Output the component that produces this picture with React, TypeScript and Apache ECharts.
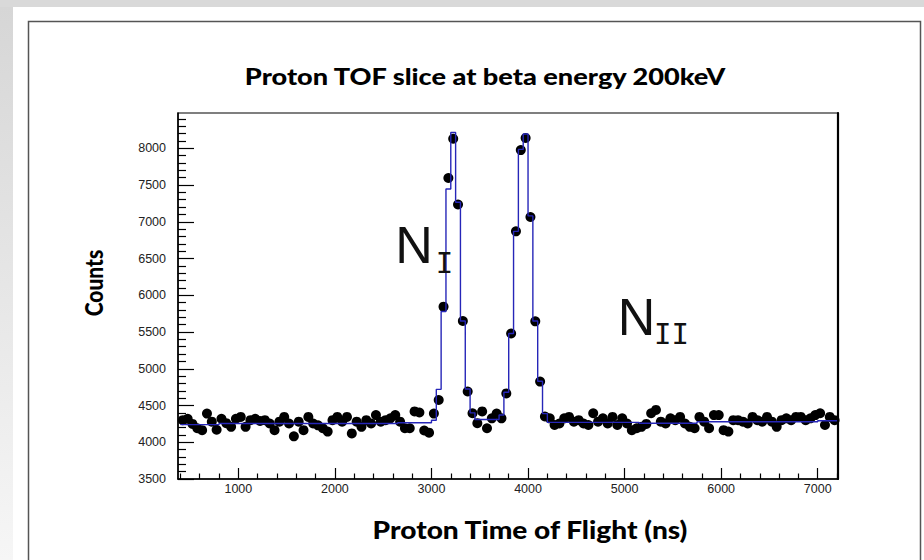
import React, { useEffect, useRef } from 'react';
import * as echarts from 'echarts';

// Histogram binning (ns)
const BIN_START = 400;
const BIN_WIDTH = 50;

// Measured counts per 50 ns bin (black markers)
const dataCounts = [
  4300, 4320, 4250, 4190, 4165, 4390, 4280, 4170, 4320, 4260,
  4210, 4320, 4345, 4210, 4300, 4320, 4290, 4300, 4255, 4165,
  4280, 4345, 4255, 4080, 4280, 4165, 4345, 4255, 4230, 4190,
  4145, 4300, 4345, 4280, 4345, 4120, 4280, 4210, 4300, 4255,
  4370, 4280, 4300, 4325, 4370, 4280, 4190, 4190, 4420, 4405,
  4160, 4130, 4390, 4575, 5845, 7595, 8130, 7235, 5650, 4690,
  4395, 4260, 4420, 4190, 4325, 4390, 4325, 4665, 5480, 6870,
  7975, 8140, 7065, 5645, 4825, 4350, 4325, 4235, 4255, 4325,
  4345, 4280, 4300, 4255, 4235, 4395, 4280, 4325, 4255, 4345,
  4235, 4325, 4255, 4165, 4190, 4210, 4250, 4395, 4440, 4280,
  4255, 4325, 4300, 4345, 4255, 4210, 4190, 4345, 4280, 4190,
  4370, 4370, 4165, 4145, 4300, 4300, 4280, 4255, 4345, 4300,
  4280, 4345, 4280, 4210, 4300, 4325, 4300, 4345, 4345, 4300,
  4325, 4370, 4395, 4235, 4345, 4300,
];

// Model histogram per bin (blue step line)
const modelCounts = [
  4240, 4240, 4240, 4240, 4240, 4240, 4240, 4240, 4255, 4255,
  4255, 4255, 4255, 4255, 4255, 4255, 4255, 4255, 4255, 4255,
  4255, 4255, 4255, 4255, 4255, 4255, 4255, 4255, 4255, 4255,
  4255, 4255, 4255, 4255, 4255, 4255, 4255, 4255, 4255, 4255,
  4255, 4255, 4255, 4255, 4255, 4265, 4265, 4265, 4265, 4265,
  4265, 4265, 4300, 4720, 5780, 7445, 8215, 7265, 5650, 4725,
  4400, 4310, 4310, 4310, 4310, 4310, 4370, 4680, 5480, 6870,
  7985, 8195, 7080, 5650, 4830, 4390, 4270, 4270, 4270, 4270,
  4270, 4270, 4270, 4270, 4270, 4270, 4270, 4270, 4270, 4270,
  4270, 4270, 4270, 4270, 4270, 4258, 4258, 4258, 4258, 4258,
  4258, 4258, 4258, 4258, 4258, 4258, 4258, 4278, 4278, 4278,
  4278, 4278, 4278, 4278, 4278, 4278, 4278, 4278, 4278, 4278,
  4278, 4278, 4278, 4278, 4278, 4278, 4278, 4278, 4278, 4278,
  4278, 4278, 4292, 4292, 4292, 4292,
];

const xMajorTicks = [1000, 2000, 3000, 4000, 5000, 6000, 7000];
const xMinorTicks = [
  400, 600, 800, 1200, 1400, 1600, 1800, 2200, 2400, 2600, 2800,
  3200, 3400, 3600, 3800, 4200, 4400, 4600, 4800, 5200, 5400, 5600, 5800,
  6200, 6400, 6600, 6800, 7200,
];
const yMajorTicks = [3500, 4000, 4500, 5000, 5500, 6000, 6500, 7000, 7500, 8000];
const yMinorTicks = [
  3600, 3700, 3800, 3900, 4100, 4200, 4300, 4400, 4600, 4700, 4800, 4900,
  5100, 5200, 5300, 5400, 5600, 5700, 5800, 5900, 6100, 6200, 6300, 6400,
  6600, 6700, 6800, 6900, 7100, 7200, 7300, 7400, 7600, 7700, 7800, 7900,
  8100, 8200, 8300, 8400,
];

const X_MIN = 375;
const X_MAX = 7210;
const Y_MIN = 3500;
const Y_MAX = 8480;

const TITLE = 'Proton TOF slice at beta energy 200keV';
const X_NAME = 'Proton Time of Flight (ns)';
const Y_NAME = 'Counts';

export default function App() {
  const ref = useRef<HTMLDivElement>(null);

  useEffect(() => {
    if (!ref.current) return;
    const chart = echarts.init(ref.current, null, { renderer: 'svg' });

    const scatterData = dataCounts.map((v, i) => [BIN_START + BIN_WIDTH * (i + 0.5), v]);
    const stepData = modelCounts.map((v, i) => [BIN_START + BIN_WIDTH * i, v]);
    stepData.push([BIN_START + BIN_WIDTH * modelCounts.length, modelCounts[modelCounts.length - 1]]);

    const tickFont = {
      fontFamily: '"Liberation Sans", Arial, sans-serif',
      fontSize: 12.5,
      color: '#222',
      formatter: (v: number) => String(v),
    };
    const boldFont = '"Lato", "Open Sans", sans-serif';

    const option: any = {
      animation: false,
      backgroundColor: '#ffffff',
      grid: {
        left: 178,
        top: 113,
        width: 660,
        height: 366,
        containLabel: false,
        outerBoundsMode: 'none',
        show: true,
        borderColor: '#000',
        borderWidth: 1.2,
        backgroundColor: 'transparent',
      },
      xAxis: [
        {
          type: 'value',
          min: X_MIN,
          max: X_MAX,
          position: 'bottom',
          axisLine: { show: true, lineStyle: { color: '#000', width: 1.5 } },
          axisTick: {
            show: true,
            inside: true,
            length: 11,
            customValues: xMajorTicks,
            lineStyle: { color: '#000', width: 1.2 },
          },
          axisLabel: { show: true, margin: 3, customValues: xMajorTicks, ...tickFont },
          splitLine: { show: false },
        },
        {
          type: 'value',
          min: X_MIN,
          max: X_MAX,
          position: 'bottom',
          axisLine: { show: false },
          axisTick: {
            show: true,
            inside: true,
            length: 5.5,
            customValues: xMinorTicks,
            lineStyle: { color: '#000', width: 1.2 },
          },
          axisLabel: { show: false },
          splitLine: { show: false },
        },
      ],
      yAxis: [
        {
          type: 'value',
          min: Y_MIN,
          max: Y_MAX,
          position: 'left',
          axisLine: { show: true, lineStyle: { color: '#000', width: 1.5 } },
          axisTick: {
            show: true,
            inside: true,
            length: 16,
            customValues: yMajorTicks,
            lineStyle: { color: '#000', width: 1.2 },
          },
          axisLabel: { show: true, margin: 12, customValues: yMajorTicks, ...tickFont },
          splitLine: { show: false },
        },
        {
          type: 'value',
          min: Y_MIN,
          max: Y_MAX,
          position: 'left',
          axisLine: { show: false },
          axisTick: {
            show: true,
            inside: true,
            length: 8,
            customValues: yMinorTicks,
            lineStyle: { color: '#000', width: 1.2 },
          },
          axisLabel: { show: false },
          splitLine: { show: false },
        },
        {
          type: 'value',
          min: Y_MIN,
          max: Y_MAX,
          position: 'right',
          axisLine: { show: true, lineStyle: { color: '#000', width: 2.2 } },
          axisTick: { show: false },
          axisLabel: { show: false },
          splitLine: { show: false },
        },
      ],
      series: [
        {
          type: 'scatter',
          name: 'data',
          xAxisIndex: 0,
          yAxisIndex: 0,
          data: scatterData,
          symbol: 'circle',
          symbolSize: 10,
          itemStyle: { color: '#000', opacity: 1 },
          z: 2,
          silent: true,
        },
        {
          type: 'line',
          name: 'model',
          xAxisIndex: 0,
          yAxisIndex: 0,
          data: stepData,
          step: 'end',
          showSymbol: false,
          symbol: 'none',
          lineStyle: { color: '#2626b8', width: 1.4 },
          z: 3,
          silent: true,
        },
      ],
      graphic: [
        {
          type: 'rect',
          z: -20,
          silent: true,
          shape: { x: 0, y: 0, width: 924, height: 7 },
          style: { fill: '#d9d9d9' },
        },
        {
          type: 'rect',
          z: -20,
          silent: true,
          shape: { x: 0, y: 7, width: 13, height: 553 },
          style: {
            fill: new echarts.graphic.LinearGradient(0, 0, 0, 1, [
              { offset: 0, color: '#d6d6d6' },
              { offset: 1, color: '#f6f6f6' },
            ]),
          },
        },
        {
          type: 'rect',
          z: -15,
          silent: true,
          shape: { x: 28.5, y: 21.5, width: 892, height: 560 },
          style: { fill: '#ffffff', stroke: '#555555', lineWidth: 1.5 },
        },
        {
          type: 'text',
          z: 50,
          x: 485,
          y: 76,
          scaleX: 1.18,
          style: {
            text: TITLE,
            fontFamily: boldFont,
            fontWeight: 900,
            fontSize: 23,
            fill: '#000',
            align: 'center',
            verticalAlign: 'middle',
          },
        },
        {
          type: 'text',
          z: 50,
          x: 530,
          y: 530,
          scaleX: 1.17,
          style: {
            text: X_NAME,
            fontFamily: boldFont,
            fontWeight: 900,
            fontSize: 24,
            fill: '#000',
            align: 'center',
            verticalAlign: 'middle',
          },
        },
        {
          type: 'text',
          z: 50,
          x: 93,
          y: 283,
          rotation: Math.PI / 2,
          scaleY: 1.2,
          style: {
            text: Y_NAME,
            fontFamily: boldFont,
            fontWeight: 900,
            fontSize: 21,
            fill: '#000',
            align: 'center',
            verticalAlign: 'middle',
          },
        },
        {
          type: 'text',
          z: 50,
          x: 414,
          y: 245,
          style: {
            text: 'N',
            fontFamily: '"Liberation Sans", sans-serif',
            fontSize: 52,
            fill: '#111',
            align: 'center',
            verticalAlign: 'middle',
          },
        },
        {
          type: 'text',
          z: 50,
          x: 444.5,
          y: 263,
          style: {
            text: 'I',
            fontFamily: '"DejaVu Sans Mono", monospace',
            fontSize: 29,
            fill: '#111',
            align: 'center',
            verticalAlign: 'middle',
          },
        },
        {
          type: 'text',
          z: 50,
          x: 636.5,
          y: 317,
          style: {
            text: 'N',
            fontFamily: '"Liberation Sans", sans-serif',
            fontSize: 52,
            fill: '#111',
            align: 'center',
            verticalAlign: 'middle',
          },
        },
        {
          type: 'text',
          z: 50,
          x: 671.5,
          y: 334,
          style: {
            text: 'II',
            fontFamily: '"DejaVu Sans Mono", monospace',
            fontSize: 29,
            fill: '#111',
            align: 'center',
            verticalAlign: 'middle',
          },
        },
      ],
    };

    chart.setOption(option);
    return () => {
      chart.dispose();
    };
  }, []);

  return (
    <div
      ref={ref}
      style={{ position: 'fixed', left: 0, top: 0, width: 924, height: 560 }}
    />
  );
}
